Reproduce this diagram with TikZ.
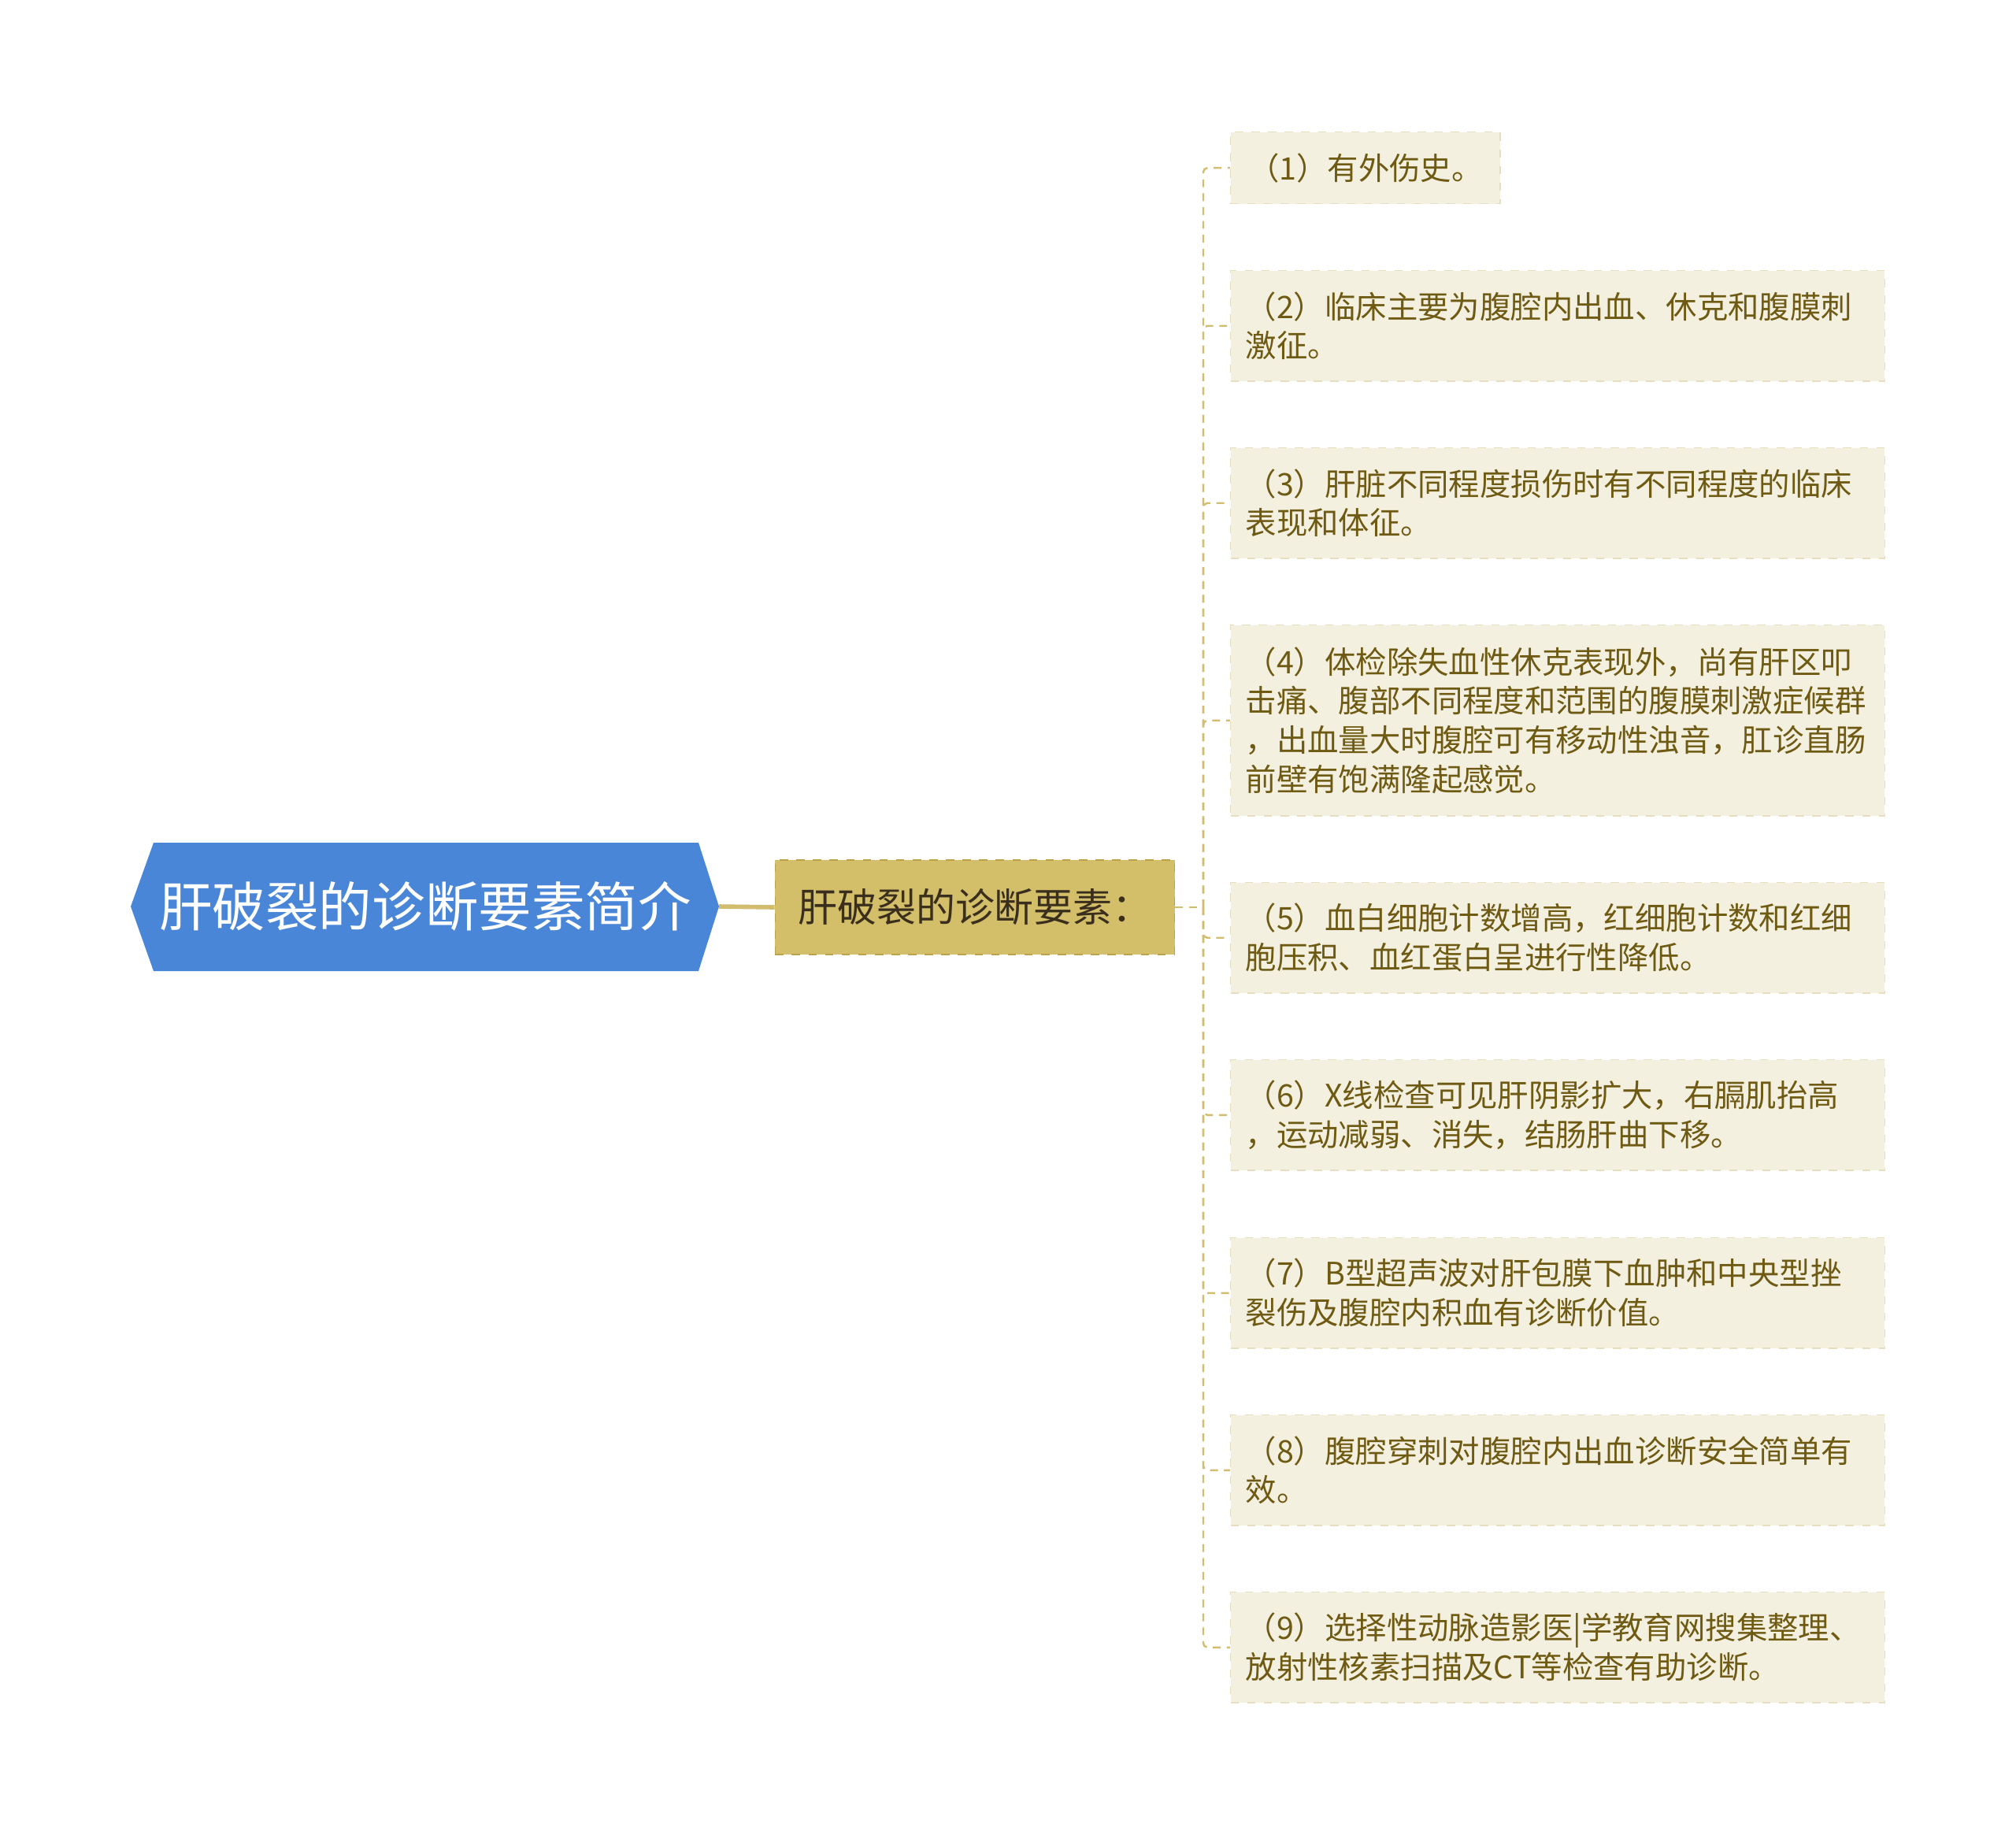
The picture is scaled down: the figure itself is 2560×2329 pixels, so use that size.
\documentclass[tikz,border=0pt]{standalone}
\usepackage{fontspec}
\setmainfont{Noto Sans CJK SC}
\definecolor{rootblue}{HTML}{4A86D8}
\definecolor{midgold}{HTML}{D3BE6A}
\definecolor{midline}{HTML}{BDA24E}
\definecolor{midtext}{HTML}{3A2F1C}
\definecolor{leaffill}{HTML}{F3F0E0}
\definecolor{leafline}{HTML}{E6DEBF}
\definecolor{leaftext}{HTML}{6E5A12}
\definecolor{branchtan}{HTML}{D2BD6E}
\begin{document}
\begin{tikzpicture}[x=0.01cm,y=-0.01cm]
	\tikzset{leaf/.style={anchor=north west, fill=leaffill, draw=leafline, dashed, inner xsep=0.19cm, align=left, text=leaftext, font=\fontsize{11.2}{14.2}\selectfont, minimum height=1.40cm, text width=7.92cm}}
	\tikzset{branch/.style={draw=branchtan, line width=0.7pt, dash pattern=on 2.8pt off 2.2pt, rounded corners=1.5pt}}
	\useasboundingbox (0,0) rectangle (2560,2329);

	% Draw the root
	\fill[rootblue] (166,1151) -- (195,1070) -- (887,1070) -- (913,1151) -- (887,1233) -- (195,1233) -- cycle;
	\node [text=white, font=\fontsize{19.2}{23}\selectfont] (root) at (540,1151) {肝破裂的诊断要素简介};
	\coordinate (rootend) at (913,1151);

	% Draw the middle box
	\node [fill=midgold, draw=midline, dashed, text=midtext, font=\fontsize{14.2}{17}\selectfont, minimum width=5.07cm, minimum height=1.20cm] (mid) at (1238,1152) {肝破裂的诊断要素：};
	\draw[branchtan, line width=1.6pt] (rootend) -- (mid.west);

	% Draw the leaves
	\node [leaf, text width=, inner xsep=0.12cm, minimum width=3.42cm, minimum height=0.91cm] (leaf1) at (1562,167) {（1）有外伤史。};
	\node [leaf] (leaf2) at (1562,343) {（2）临床主要为腹腔内出血、休克和腹膜刺\\激征。};
	\node [leaf] (leaf3) at (1562,568) {（3）肝脏不同程度损伤时有不同程度的临床\\表现和体征。};
	\node [leaf, minimum height=2.42cm] (leaf4) at (1562,793) {（4）体检除失血性休克表现外，尚有肝区叩\\击痛、腹部不同程度和范围的腹膜刺激症候群\\，出血量大时腹腔可有移动性浊音，肛诊直肠\\前壁有饱满隆起感觉。};
	\node [leaf] (leaf5) at (1562,1120) {（5）血白细胞计数增高，红细胞计数和红细\\胞压积、血红蛋白呈进行性降低。};
	\node [leaf] (leaf6) at (1562,1345) {（6）X线检查可见肝阴影扩大，右膈肌抬高\\，运动减弱、消失，结肠肝曲下移。};
	\node [leaf] (leaf7) at (1562,1571) {（7）B型超声波对肝包膜下血肿和中央型挫\\裂伤及腹腔内积血有诊断价值。};
	\node [leaf] (leaf8) at (1562,1796) {（8）腹腔穿刺对腹腔内出血诊断安全简单有\\效。};
	\node [leaf] (leaf9) at (1562,2021) {（9）选择性动脉造影医|学教育网搜集整理、\\放射性核素扫描及CT等检查有助诊断。};

	% Draw the branches
	\coordinate (spine) at (1528,1152);
	\draw[branch] (mid.east) -- (spine);
	\foreach \i in {1,...,9}
		\draw[branch] (spine) |- (leaf\i.west);

\end{tikzpicture}
\end{document}
